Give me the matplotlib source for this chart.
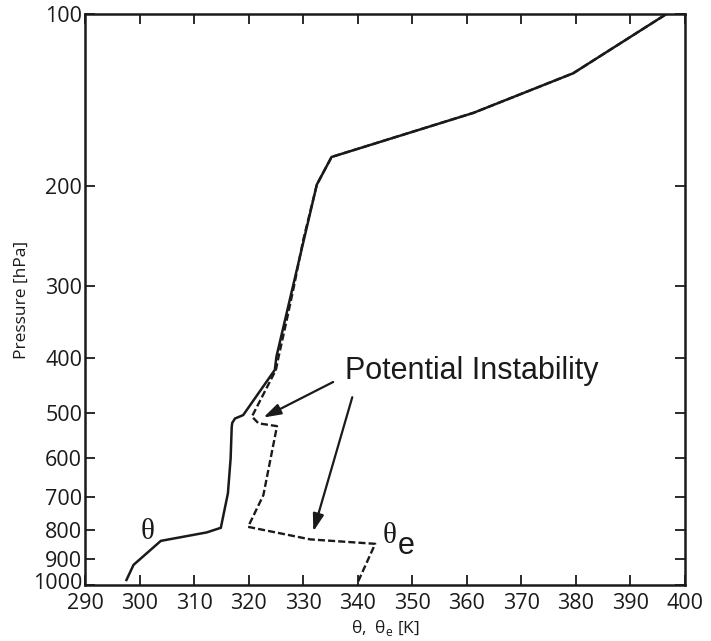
import matplotlib
matplotlib.use("Agg")
import matplotlib.pyplot as plt
import matplotlib.transforms as mtransforms

# Potential temperature profile (hPa, K)
theta_pres = [980, 922, 837, 809, 794, 691, 600, 528, 520, 511, 504, 420, 398, 199, 178, 149, 127, 100]
theta_vals = [297.6, 298.9, 303.9, 312.3, 314.9, 316.2, 316.7, 316.9, 317.0, 317.5, 319.0,
              324.8, 325.1, 332.5, 335.2, 361.2, 379.5, 396.6]

# Equivalent potential temperature profile (hPa, K)
thetae_pres = [985, 847, 832, 791, 696, 527, 521, 507, 420, 398, 343, 300, 249, 199, 178, 149, 127, 100]
thetae_vals = [340.1, 343.2, 331.3, 319.9, 322.7, 325.2, 321.8, 320.6, 325.0, 325.5, 327.0,
               328.3, 330.0, 332.5, 335.2, 361.2, 379.5, 396.6]

x_ticks = [290, 300, 310, 320, 330, 340, 350, 360, 370, 380, 390, 400]
p_ticks = [100, 200, 300, 400, 500, 600, 700, 800, 900, 1000]

tick_font = "Open Sans"
label_font = "Liberation Sans"
greek_font = "Liberation Serif"
ink = "#1a1a1a"

fig = plt.figure(figsize=(7.11, 6.41), dpi=100)
ax = fig.add_axes([85 / 711, 1 - 585 / 641, 600 / 711, 571 / 641])

ax.plot(thetae_vals, thetae_pres, color=ink, lw=1.7, dashes=(3.0, 1.3), zorder=2)
ax.plot(theta_vals, theta_pres, color=ink, lw=1.8, zorder=3, solid_joinstyle="miter")

ax.set_yscale("log")
ax.set_ylim(1000, 100)
ax.set_xlim(290, 400)
ax.set_yticks(p_ticks)
ax.set_yticklabels([str(p) for p in p_ticks])
ax.minorticks_off()
ax.set_xticks(x_ticks)
ax.set_xticklabels([str(x) for x in x_ticks])

for s in ax.spines.values():
    s.set_linewidth(1.8)
    s.set_color(ink)

ax.tick_params(direction="in", length=7.5, width=1.3, color=ink,
               top=True, right=True, labelsize=15.5)
for lab in ax.get_xticklabels() + ax.get_yticklabels():
    lab.set_fontfamily(tick_font)
    lab.set_color(ink)
ax.tick_params(axis="x", pad=6)
ax.tick_params(axis="y", pad=2)

# lift the bottom pressure label a little so it clears the first x label
lift = mtransforms.ScaledTranslation(0, 3 / 72, fig.dpi_scale_trans)
ylabs = ax.get_yticklabels()
ylabs[-1].set_transform(ylabs[-1].get_transform() + lift)

ax.set_ylabel("Pressure [hPa]", fontsize=12.5, family=tick_font, color=ink, labelpad=2)
ax.set_xlabel(r"θ,  θ$_{\mathregular{e}}$ [K]", fontsize=12.5, family=tick_font,
              color=ink, labelpad=3)

# Annotations
ax.text(337.7, 436, "Potential Instability", fontsize=22, family=label_font,
        color=ink, ha="left", va="baseline")
arrow = dict(arrowstyle="-|>,head_length=0.7,head_width=0.22", color=ink,
             lw=1.6, mutation_scale=15, shrinkA=0, shrinkB=0)
ax.annotate("", xy=(322.7, 509), xytext=(335.5, 441), arrowprops=arrow)
ax.annotate("", xy=(331.85, 806), xytext=(339.0, 469), arrowprops=arrow)

ax.text(301.5, 809, "θ", fontsize=21, family=greek_font, color=ink,
        ha="center", va="center")
ax.text(345.9, 821, "θ", fontsize=21, family=greek_font, color=ink,
        ha="center", va="center")
ax.text(347.4, 883, "e", fontsize=22, family=label_font, color=ink,
        ha="left", va="baseline")

fig.savefig("out.png", dpi=100)
